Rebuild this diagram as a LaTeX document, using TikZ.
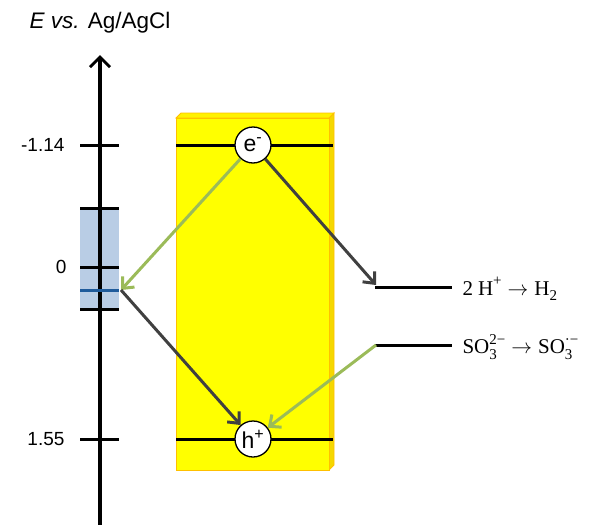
\documentclass[tikz,border=0pt]{standalone}
\usepackage[no-math]{fontspec}
\setmainfont{Liberation Sans}
\newfontfamily\eqfont{Liberation Serif}
\usetikzlibrary{arrows.meta}
\definecolor{ygreen}{HTML}{9BBB59}
\definecolor{dgray}{HTML}{404040}
\definecolor{lblue}{HTML}{B9CDE5}
\definecolor{dblue}{HTML}{1F5B9B}
\definecolor{yborder}{HTML}{FFC000}
\definecolor{yside}{HTML}{F5D800}
\definecolor{ytop}{HTML}{FFF200}
\definecolor{yfront}{HTML}{FFFF00}
\newcommand\MySp[1]{\raisebox{0.45em}{\fontsize{15}{15}\selectfont #1}}
\newcommand\MySb[1]{\raisebox{-0.28em}{\fontsize{15}{15}\selectfont #1}}
\newcommand\MySpSb[2]{\rlap{\MySb{#2}}\MySp{#1}}
\newcommand\MyArr{\hspace{6pt}$\rightarrow$\hspace{6pt}}
\tikzset{
  tick/.style={line width=3pt},
  level/.style={line width=3pt},
  tl/.style={anchor=east,font=\fontsize{19}{22}\selectfont},
  carrier/.style={circle,draw=black,line width=1.3pt,fill=white,minimum size=36pt,inner sep=0pt,font=\fontsize{23}{25}\selectfont},
  garrow/.style={ygreen,line width=3pt,-{Straight Barb[length=9pt,width=16pt,line width=3pt]}},
  darrow/.style={dgray,line width=3pt,-{Straight Barb[length=9pt,width=16pt,line width=3pt]}},
  eq/.style={anchor=west,font=\eqfont\fontsize{21}{24}\selectfont}
}
\begin{document}
\begin{tikzpicture}[x=1pt,y=-1pt]
\useasboundingbox (0,0) rectangle (592,525);
% yellow box with bevel
\fill[yside,draw=yborder,line width=0.8pt] (329,118) -- (334,113) -- (334,465) -- (329,470) -- cycle;
\fill[ytop,draw=yborder,line width=0.8pt] (176,118) -- (181,113) -- (334,113) -- (329,118) -- cycle;
\fill[yfront,draw=yborder,line width=0.8pt] (176,118) rectangle (329,470);
% blue region
\fill[lblue] (80,208) rectangle (119,309);
% axis
\draw[line width=3.5pt,-{Straight Barb[length=10pt,width=20pt,line width=3pt]}] (100,525) -- (100,55);
\node[anchor=south,font=\fontsize{22.5}{25}\selectfont] (title) at (100,37) {\textit{E vs.} Ag/AgCl};
% ticks
\draw[tick] (80,145) -- (119,145);
\draw[tick] (80,208) -- (119,208);
\draw[tick] (80,267) -- (119,267);
\draw[tick] (80,309) -- (119,309);
\draw[tick] (80,439) -- (119,439);
\draw[dblue,line width=3pt] (80,290) -- (119,290);
\node[tl] (l1) at (68,145) {-1.14};
\node[tl] (l2) at (70,267) {0};
\node[tl] (l3) at (68,439) {1.55};
% band edges
\draw[level] (176,145) -- (333,145);
\draw[level] (176,439) -- (333,439);
% right levels
\draw[level] (375,287) -- (452,287);
\draw[level] (375,345) -- (452,345);
\coordinate (hl) at (376,285);
\coordinate (sl) at (376,345);
\coordinate (bl) at (121,290);
\node[eq] (r1) at (459,289) {2\hspace{5pt}H\MySp{+}\MyArr H\MySb{2}};
\node[eq] (r2) at (459,347) {SO\MySpSb{2−}{3}\MyArr SO\MySpSb{·−}{3}};
% carriers
\node[carrier] (e) at (253,145) {e\textsuperscript{-}};
\node[carrier] (h) at (253,439) {h\textsuperscript{+}};
% arrows
\draw[garrow] (e) -- (bl);
\draw[darrow] (e) -- (hl);
\draw[darrow] (bl) -- (h);
\draw[garrow] (sl) -- (h);
\end{tikzpicture}
\end{document}
